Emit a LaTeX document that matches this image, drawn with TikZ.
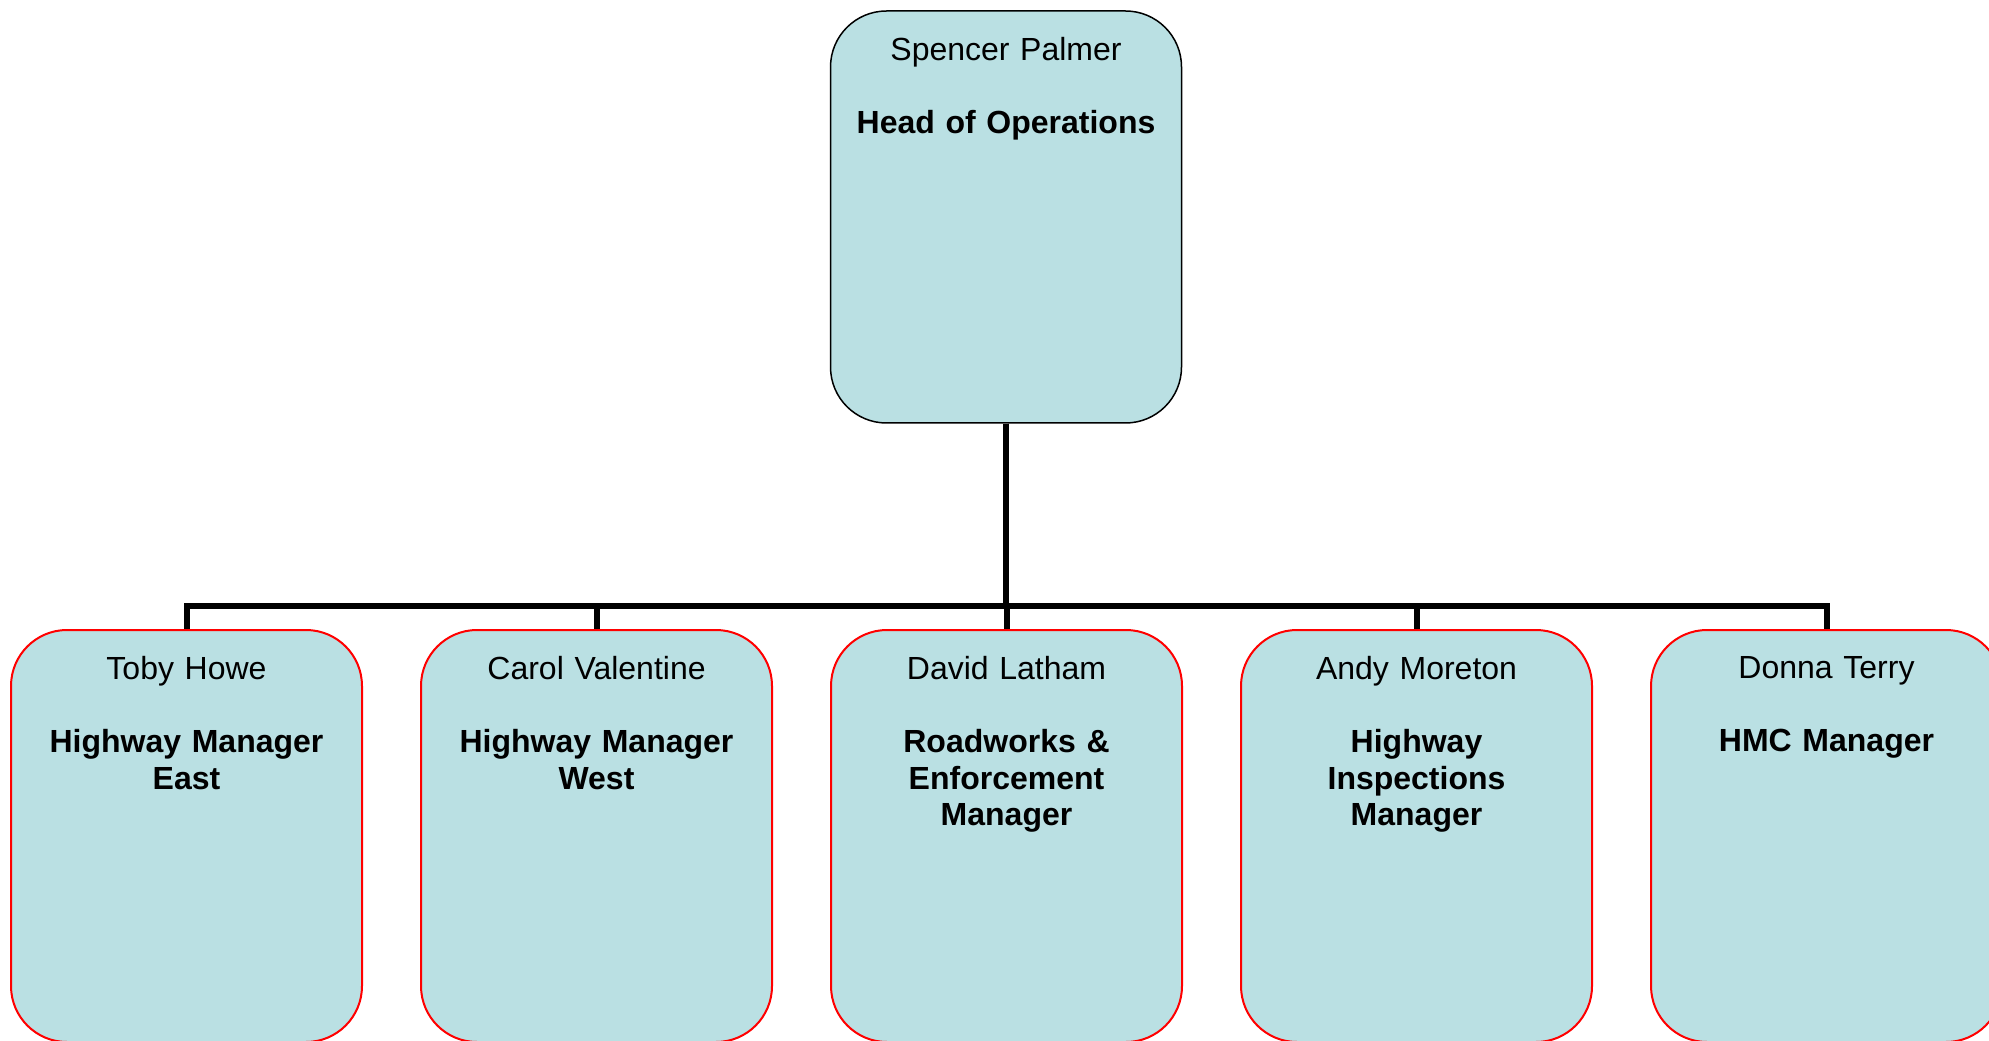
\documentclass[tikz,border=0pt]{standalone}
\usepackage{fontspec}
\setmainfont{Liberation Sans}
\usetikzlibrary{positioning}
\definecolor{boxfill}{RGB}{186,224,227}
\begin{document}
\begin{tikzpicture}
        \def\boxw{175.5pt}
        \def\boxh{206pt}
        \def\gap{205pt}
        \tikzstyle{box} = [fill=boxfill, rounded corners=28pt, minimum width=\boxw, minimum height=\boxh, inner sep=0pt]
        \tikzstyle{head} = [box, draw=black, line width=0.75pt]
        \tikzstyle{staff} = [box, draw=red, line width=1pt]
        \tikzstyle{txt} = [align=center, text width=\boxw, inner sep=0pt, font=\fontsize{16}{18.25}\selectfont]
        \tikzstyle{link} = [line width=3pt, line join=miter]
        % Keep the page at the size of the chart
        \clip (0pt, 0pt) rectangle (994.5pt, 520pt);
        % Draw the box for the head of operations
        \node[head] (head) at (503pt, 411.5pt) {};
        \node[txt, below=13.5pt of head.north] (headtxt) {Spencer Palmer\\[18.25pt]\textbf{Head of Operations}};
        % Draw the five manager boxes in a row below
        \foreach \j/\who/\role in {1/Toby Howe/{Highway Manager\\East},
                                   2/Carol Valentine/{Highway Manager\\West},
                                   3/David Latham/{Roadworks \&\\Enforcement\\Manager},
                                   4/Andy Moreton/{Highway\\Inspections\\Manager},
                                   5/Donna Terry/{HMC Manager}} {
            \node[staff] (staff\j) at ({(\j-1)*\gap+93.25pt}, 102pt) {};
            \node[txt, below=13.5pt of staff\j.north] (stafftxt\j) {\who\\[18.25pt]\textbf{\role}};
        }
        % Draw the lines from the head down to each manager
        \coordinate (bus) at (503pt, 217pt);
        \foreach \j in {1,...,5} {
            \draw[link] (head.south) |- (bus) -| (staff\j.north);
        }
\end{tikzpicture}
\end{document}
